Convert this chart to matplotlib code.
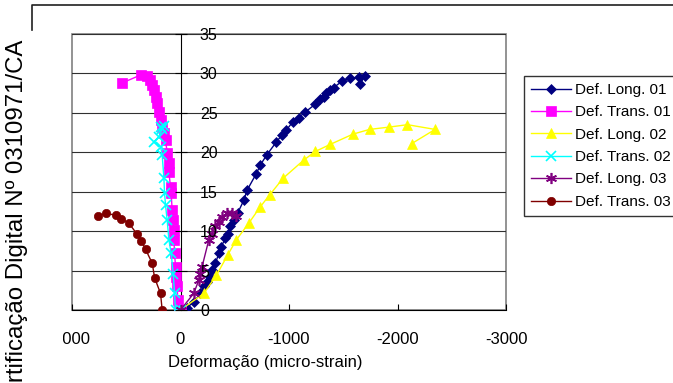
import numpy as np
import matplotlib
matplotlib.use("Agg")
from matplotlib import pyplot as plt
from matplotlib.lines import Line2D
from matplotlib.patches import Rectangle
from matplotlib.transforms import Bbox

plt.rcParams['font.family'] = ['Liberation Sans', 'DejaVu Sans']

# deformacao (micro-strain) x carga
long01_x = [0, -60, -120, -184, -215, -245, -270, -291, -322, -353, -374, -414, -436, -460, -491,
            -527, -583, -614, -699, -736, -797, -883, -936, -975, -1037, -1088, -1150, -1242,
            -1288, -1319, -1343, -1380, -1411, -1488, -1558, -1641, -1702, -1656]
long01_y = [0, 0.3, 1.0, 2.1, 3.0, 3.6, 4.2, 5.1, 5.9, 7.2, 8.0, 9.1, 9.7, 10.6, 11.4,
            12.3, 13.9, 15.2, 17.3, 18.4, 19.7, 21.3, 22.2, 22.8, 23.9, 24.4, 25.1, 26.1,
            26.7, 27.0, 27.5, 27.9, 28.2, 29.0, 29.4, 29.5, 29.7, 28.7]

trans01_x = [0, 15, 25, 31, 37, 46, 55, 61, 61, 67, 77, 86, 92, 107, 107, 123, 138, 153,
             169, 184, 199, 214, 230, 245, 260, 282, 306, 368, 536]
trans01_y = [0, 0.0, 1.3, 3.0, 4.2, 5.5, 7.2, 8.9, 10.1, 11.4, 12.7, 14.8, 15.6, 17.5, 18.6,
             19.9, 21.6, 22.4, 23.2, 24.1, 25.1, 26.2, 27.0, 27.9, 28.5, 29.2, 29.7, 29.8, 28.8]

long02_x = [0, -215, -331, -436, -515, -629, -736, -822, -945, -1135, -1242, -1380, -1589,
            -1742, -1926, -2092, -2346, -2131]
long02_y = [0, 2.1, 4.4, 7.0, 8.9, 11.0, 13.1, 14.6, 16.7, 19.0, 20.1, 21.0, 22.3,
            22.9, 23.2, 23.5, 22.9, 21.1]

trans02_x = [0, 46, 55, 67, 86, 107, 123, 138, 147, 153, 169, 184, 245, 199, 153, 184, 169]
trans02_y = [0, 0.0, 2.1, 4.6, 7.2, 8.9, 11.4, 13.3, 14.8, 16.7, 19.7, 20.7, 21.3, 22.0,
             23.3, 23.2, 23.0]

long03_x = [0, -122, -169, -184, -199, -261, -291, -322, -353, -383, -429, -475, -515]
long03_y = [0, 2.1, 3.8, 4.6, 5.5, 8.9, 9.7, 10.6, 11.2, 11.8, 12.3, 12.3, 11.9]

trans03_x = [169, 184, 239, 260, 322, 362, 405, 475, 546, 598, 690, 761]
trans03_y = [0, 2.1, 4.1, 5.9, 7.7, 8.8, 9.7, 11.0, 11.6, 12.0, 12.3, 11.9]

x_ticks = [1000, 0, -1000, -2000, -3000]
y_ticks = [0, 5, 10, 15, 20, 25, 30, 35]

W, H = 673, 383
fig = plt.figure(figsize=(W / 100, H / 100), dpi=100)
ax = fig.add_axes([72 / W, 1 - 310 / H, (506 - 72) / W, (310 - 34) / H])

series = [
    (long01_x, long01_y, 'Def. Long. 01', '#000080', 'D', 5.5),
    (trans01_x, trans01_y, 'Def. Trans. 01', '#FF00FF', 's', 6.5),
    (long02_x, long02_y, 'Def. Long. 02', '#FFFF00', '^', 7),
    (trans02_x, trans02_y, 'Def. Trans. 02', '#00FFFF', 'x', 7),
    (long03_x, long03_y, 'Def. Long. 03', '#800080', (6, 2, 0), 8),
    (trans03_x, trans03_y, 'Def. Trans. 03', '#800000', 'o', 6),
]
handles = []
for xs, ys, lab, col, mk, ms in series:
    ln, = ax.plot(xs, ys, color=col, marker=mk, markersize=ms, linewidth=1,
                  markeredgewidth=1.2 if mk in ('x', (6, 2, 0)) else 0.5,
                  markeredgecolor=col, label=lab, zorder=3)
    handles.append(ln)

ax.set_xlim(1000, -3000)
ax.set_ylim(0, 35)

# grade horizontal
for v in y_ticks[1:]:
    ax.axhline(v, color='#303030', linewidth=0.8, zorder=1)

# moldura da area do grafico
ax.add_patch(Rectangle((0, 0), 1, 1, transform=ax.transAxes, fill=False,
                       edgecolor='#808080', linewidth=1.2, zorder=0.5, clip_on=False))

for s in ['left', 'top']:
    ax.spines[s].set_visible(False)
ax.spines['bottom'].set_color('black')
ax.spines['right'].set_position(('data', 0))
ax.spines['right'].set_color('black')
ax.yaxis.set_ticks_position('right')
ax.yaxis.set_zorder(5)

ax.set_xticks(x_ticks)
ax.set_xticklabels([str(v) for v in x_ticks], fontsize=12)
ax.tick_params(axis='x', direction='in', length=4, pad=16, width=0.8)
ax.set_yticks(y_ticks)
ax.set_yticklabels([str(v) for v in y_ticks], fontsize=11.5)
ax.tick_params(axis='y', direction='inout', length=8, pad=10, width=0.8)

fig.text(265 / W, 1 - 362 / H, 'Deformação (micro-strain)', ha='center', va='center',
         fontsize=12)

fig.legend(handles=handles, loc='upper left', bbox_to_anchor=(524 / W, 1 - 76 / H),
           fontsize=11, frameon=True, fancybox=False, edgecolor='black',
           handlelength=2.6, handletextpad=0.3, labelspacing=0.55, borderpad=0.45,
           borderaxespad=0)

# borda externa (parcialmente coberta)
fig.add_artist(Line2D([32 / W, 32 / W, 1.0], [1 - 30 / H, 1 - 5 / H, 1 - 5 / H],
                      transform=fig.transFigure, color='#202020', linewidth=1.2))

fig.text(17 / W, 1 - 40 / H, 'PUC-Rio - Certificação Digital Nº 0310971/CA',
         rotation=90, ha='center', va='top', fontsize=17.3)

fig.canvas.draw()
clip = Bbox.from_extents(63, 0, W, H)
for lbl in ax.get_xticklabels():
    lbl.set_clip_box(clip)
    lbl.set_clip_on(True)

fig.savefig('out.png', dpi=100)
